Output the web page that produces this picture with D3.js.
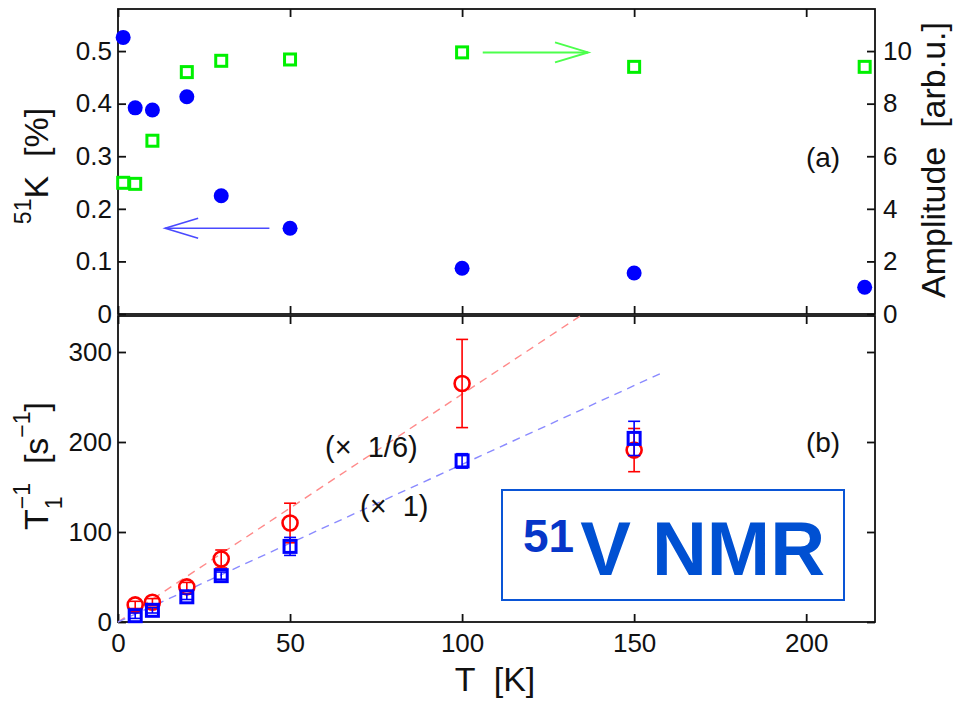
<!DOCTYPE html>
<html><head><meta charset="utf-8">
<script src="https://cdn.jsdelivr.net/npm/d3@7"></script>
<style>
body{margin:0;background:#fff}
text{font-family:"Liberation Sans",Arial,Helvetica,sans-serif;fill:#111;white-space:pre}
</style>
</head><body>
<svg id="c" width="953" height="702"></svg>
<script>
// ---- data ----
const tempK      = [1.5, 5, 10, 20, 30, 50, 100, 150, 217];
const knightShift= [0.526, 0.392, 0.388, 0.413, 0.225, 0.163, 0.087, 0.078, 0.051];
const amplitude  = [4.99, 4.95, 6.59, 9.2, 9.63, 9.68, 9.95, 9.40, 9.40];

const t1Temps    = [5, 10, 20, 30, 50, 100, 150];
const t1Scaled   = [19, 22, 39, 70, 110, 265, 191];   // (x 1/6), red circles
const t1ScaledErr= [4, 4, 5, 10, 22, 49, 24];
const t1Raw      = [7, 13, 28, 51.5, 84, 179, 204];   // (x 1), blue squares
const t1RawErr   = [3, 3, 3, 4, 10, 8, 19];

const fitScaledT = [0, 134.3], fitScaledV = [0, 340];
const fitRawT    = [0, 157.6], fitRawV    = [0, 276];

const xTicks   = [0, 50, 100, 150, 200];
const kTicks   = [0, 0.1, 0.2, 0.3, 0.4, 0.5];
const ampTicks = [0, 2, 4, 6, 8, 10];
const t1Ticks  = [0, 100, 200, 300];

// arrows (data units)
const arrowK   = {from: 44, to: 13.7, y: 0.163};
const arrowAmp = {from: 106, to: 136.6, y: 9.95};

// ---- layout ----
const svg = d3.select("#c");
const L = 118, R = 875, topT = 9, topB = 314, botT = 316, botB = 622;
const x  = d3.scaleLinear().domain([0, 220]).range([L, R]);
const yK = d3.scaleLinear().domain([0, 0.58]).range([topB, topT]);
const yA = d3.scaleLinear().domain([0, 11.6]).range([topB, topT]);
const yT = d3.scaleLinear().domain([0, 340]).range([botB, botT]);

const AX = 1.8, TICKFS = 26;
function styleAxis(g, showLabels) {
  g.select(".domain").remove();
  g.selectAll(".tick line").attr("stroke", "#111").attr("stroke-width", AX);
  g.selectAll(".tick text").attr("font-size", TICKFS).attr("fill", "#111")
    .style("font-family", '"Liberation Sans",Arial,sans-serif');
  if (!showLabels) g.selectAll(".tick text").remove();
}
const fmtK = d => d === 0 ? "0" : d3.format(".1f")(d);

// top panel axes
svg.append("g").attr("transform", `translate(${L},0)`)
  .call(d3.axisLeft(yK).tickValues(kTicks).tickFormat(fmtK).tickSizeInner(-8).tickSizeOuter(0).tickPadding(6))
  .call(g => styleAxis(g, true));
svg.append("g").attr("transform", `translate(${R},0)`)
  .call(d3.axisRight(yA).tickValues(ampTicks).tickSizeInner(-8).tickSizeOuter(0).tickPadding(8))
  .call(g => styleAxis(g, true));
svg.append("g").attr("transform", `translate(0,${topT})`)
  .call(d3.axisTop(x).tickValues(xTicks).tickSizeInner(-8).tickSizeOuter(0))
  .call(g => styleAxis(g, false));
svg.append("g").attr("transform", `translate(0,${topB})`)
  .call(d3.axisBottom(x).tickValues(xTicks).tickSizeInner(-8).tickSizeOuter(0))
  .call(g => styleAxis(g, false));

// bottom panel axes
svg.append("g").attr("transform", `translate(${L},0)`)
  .call(d3.axisLeft(yT).tickValues(t1Ticks).tickSizeInner(-8).tickSizeOuter(0).tickPadding(6))
  .call(g => styleAxis(g, true));
svg.append("g").attr("transform", `translate(${R},0)`)
  .call(d3.axisRight(yT).tickValues(t1Ticks).tickSizeInner(-8).tickSizeOuter(0))
  .call(g => styleAxis(g, false));
svg.append("g").attr("transform", `translate(0,${botT})`)
  .call(d3.axisTop(x).tickValues(xTicks).tickSizeInner(-8).tickSizeOuter(0))
  .call(g => styleAxis(g, false));
svg.append("g").attr("transform", `translate(0,${botB})`)
  .call(d3.axisBottom(x).tickValues(xTicks).tickSizeInner(-8).tickSizeOuter(0).tickPadding(12))
  .call(g => styleAxis(g, true));

// frames
[[topT, topB], [botT, botB]].forEach(([t, b]) => {
  svg.append("rect").attr("x", L).attr("y", t).attr("width", R - L).attr("height", b - t)
    .attr("fill", "none").attr("stroke", "#111").attr("stroke-width", AX);
});

// ---- top panel marks ----
const topData = tempK.map((t, i) => ({t, k: knightShift[i], a: amplitude[i]}));
svg.append("g").selectAll("rect").data(topData).join("rect")
  .attr("x", d => x(d.t) - 5.5).attr("y", d => yA(d.a) - 5.5)
  .attr("width", 11).attr("height", 11)
  .attr("fill", "none").attr("stroke", "#00f000").attr("stroke-width", 3);
svg.append("g").selectAll("circle").data(topData).join("circle")
  .attr("cx", d => x(d.t)).attr("cy", d => yK(d.k)).attr("r", 7.5)
  .attr("fill", "#0000ff");

function arrow(a, yScale, color, w) {
  const y = yScale(a.y), x1 = x(a.from), x2 = x(a.to);
  const dir = Math.sign(x2 - x1);
  const g = svg.append("g").attr("stroke", color).attr("stroke-width", w).attr("fill", "none");
  g.append("line").attr("x1", x1).attr("x2", x2).attr("y1", y).attr("y2", y);
  g.append("path").attr("d", `M${x2 - dir * 33},${y - 10}L${x2},${y}L${x2 - dir * 33},${y + 10}`);
}
arrow(arrowK, yK, "#4a4aff", 1.6);
arrow(arrowAmp, yA, "#4cff4c", 2);

svg.append("text").attr("x", 823).attr("y", 167).attr("text-anchor", "middle")
  .attr("font-size", 28).text("(a)");

// ---- bottom panel marks ----
const line = d3.line().x(d => x(d[0])).y(d => yT(d[1]));
svg.append("path").datum(fitScaledT.map((t, i) => [t, fitScaledV[i]])).attr("d", line)
  .attr("fill", "none").attr("stroke", "#ff8a8a").attr("stroke-width", 1.4).attr("stroke-dasharray", "8,6");
svg.append("path").datum(fitRawT.map((t, i) => [t, fitRawV[i]])).attr("d", line)
  .attr("fill", "none").attr("stroke", "#8a8aff").attr("stroke-width", 1.4).attr("stroke-dasharray", "8,6");

function errorBars(vals, errs, color) {
  const g = svg.append("g").attr("stroke", color).attr("stroke-width", 1.6);
  t1Temps.forEach((t, i) => {
    const cx = x(t), y1 = yT(vals[i] - errs[i]), y2 = yT(vals[i] + errs[i]);
    g.append("line").attr("x1", cx).attr("x2", cx).attr("y1", y1).attr("y2", y2);
    g.append("line").attr("x1", cx - 6).attr("x2", cx + 6).attr("y1", y1).attr("y2", y1);
    g.append("line").attr("x1", cx - 6).attr("x2", cx + 6).attr("y1", y2).attr("y2", y2);
  });
}
errorBars(t1Scaled, t1ScaledErr, "#ff0000");
svg.append("g").selectAll("circle").data(t1Temps).join("circle")
  .attr("cx", d => x(d)).attr("cy", (d, i) => yT(t1Scaled[i])).attr("r", 7.5)
  .attr("fill", "none").attr("stroke", "#ff0000").attr("stroke-width", 2.6);
errorBars(t1Raw, t1RawErr, "#0000ff");
svg.append("g").selectAll("rect").data(t1Temps).join("rect")
  .attr("x", d => x(d) - 6).attr("y", (d, i) => yT(t1Raw[i]) - 6)
  .attr("width", 12).attr("height", 12)
  .attr("fill", "none").attr("stroke", "#0000ff").attr("stroke-width", 3);

svg.append("text").attr("x", 325).attr("y", 457).attr("font-size", 29).text("(×  1/6)");
svg.append("text").attr("x", 360).attr("y", 516).attr("font-size", 29).text("(×  1)");
svg.append("text").attr("x", 823).attr("y", 452).attr("text-anchor", "middle")
  .attr("font-size", 28).text("(b)");

// NMR box
svg.append("rect").attr("x", 502).attr("y", 490).attr("width", 342).attr("height", 110)
  .attr("fill", "#fff").attr("stroke", "#0a55d6").attr("stroke-width", 2);
const nmr = svg.append("text").attr("x", 523).attr("y", 575).attr("font-weight", "bold");
nmr.append("tspan").attr("font-size", 46).attr("dy", -23).style("fill", "#0636c8").text("51");
nmr.append("tspan").attr("font-size", 76).attr("dy", 23).attr("dx", 6).style("fill", "#0050d2").text("V NMR");

// ---- axis labels ----
function richLabel(cx, cy, rotate, segs) {
  const g = svg.append("g").attr("transform", `translate(${cx},${cy}) rotate(${rotate})`);
  let pos = 0, prevStart = 0;
  const items = [];
  segs.forEach(s => {
    const t = g.append("text").attr("font-size", s.size).attr("y", s.shift || 0).text(s.t);
    const w = t.node().getComputedTextLength();
    const start = s.stack ? prevStart : pos;
    items.push([t, start]);
    prevStart = start;
    pos = Math.max(pos, start + w);
  });
  const off = -pos / 2;
  items.forEach(([t, s]) => t.attr("x", s + off));
}
richLabel(48, 166, -90, [
  {t: "51", size: 23, shift: -17},
  {t: "K  [%]", size: 34}
]);
richLabel(48, 466, -90, [
  {t: "T", size: 34},
  {t: "−1", size: 23, shift: -18},
  {t: "1", size: 23, shift: 14, stack: true},
  {t: "  [s", size: 34},
  {t: "−1", size: 23, shift: -18},
  {t: "]", size: 34}
]);
richLabel(945, 160, -90, [{t: "Amplitude  [arb.u.]", size: 34}]);
richLabel(495, 691, 0, [{t: "T  [K]", size: 34}]);
</script>
</body></html>
